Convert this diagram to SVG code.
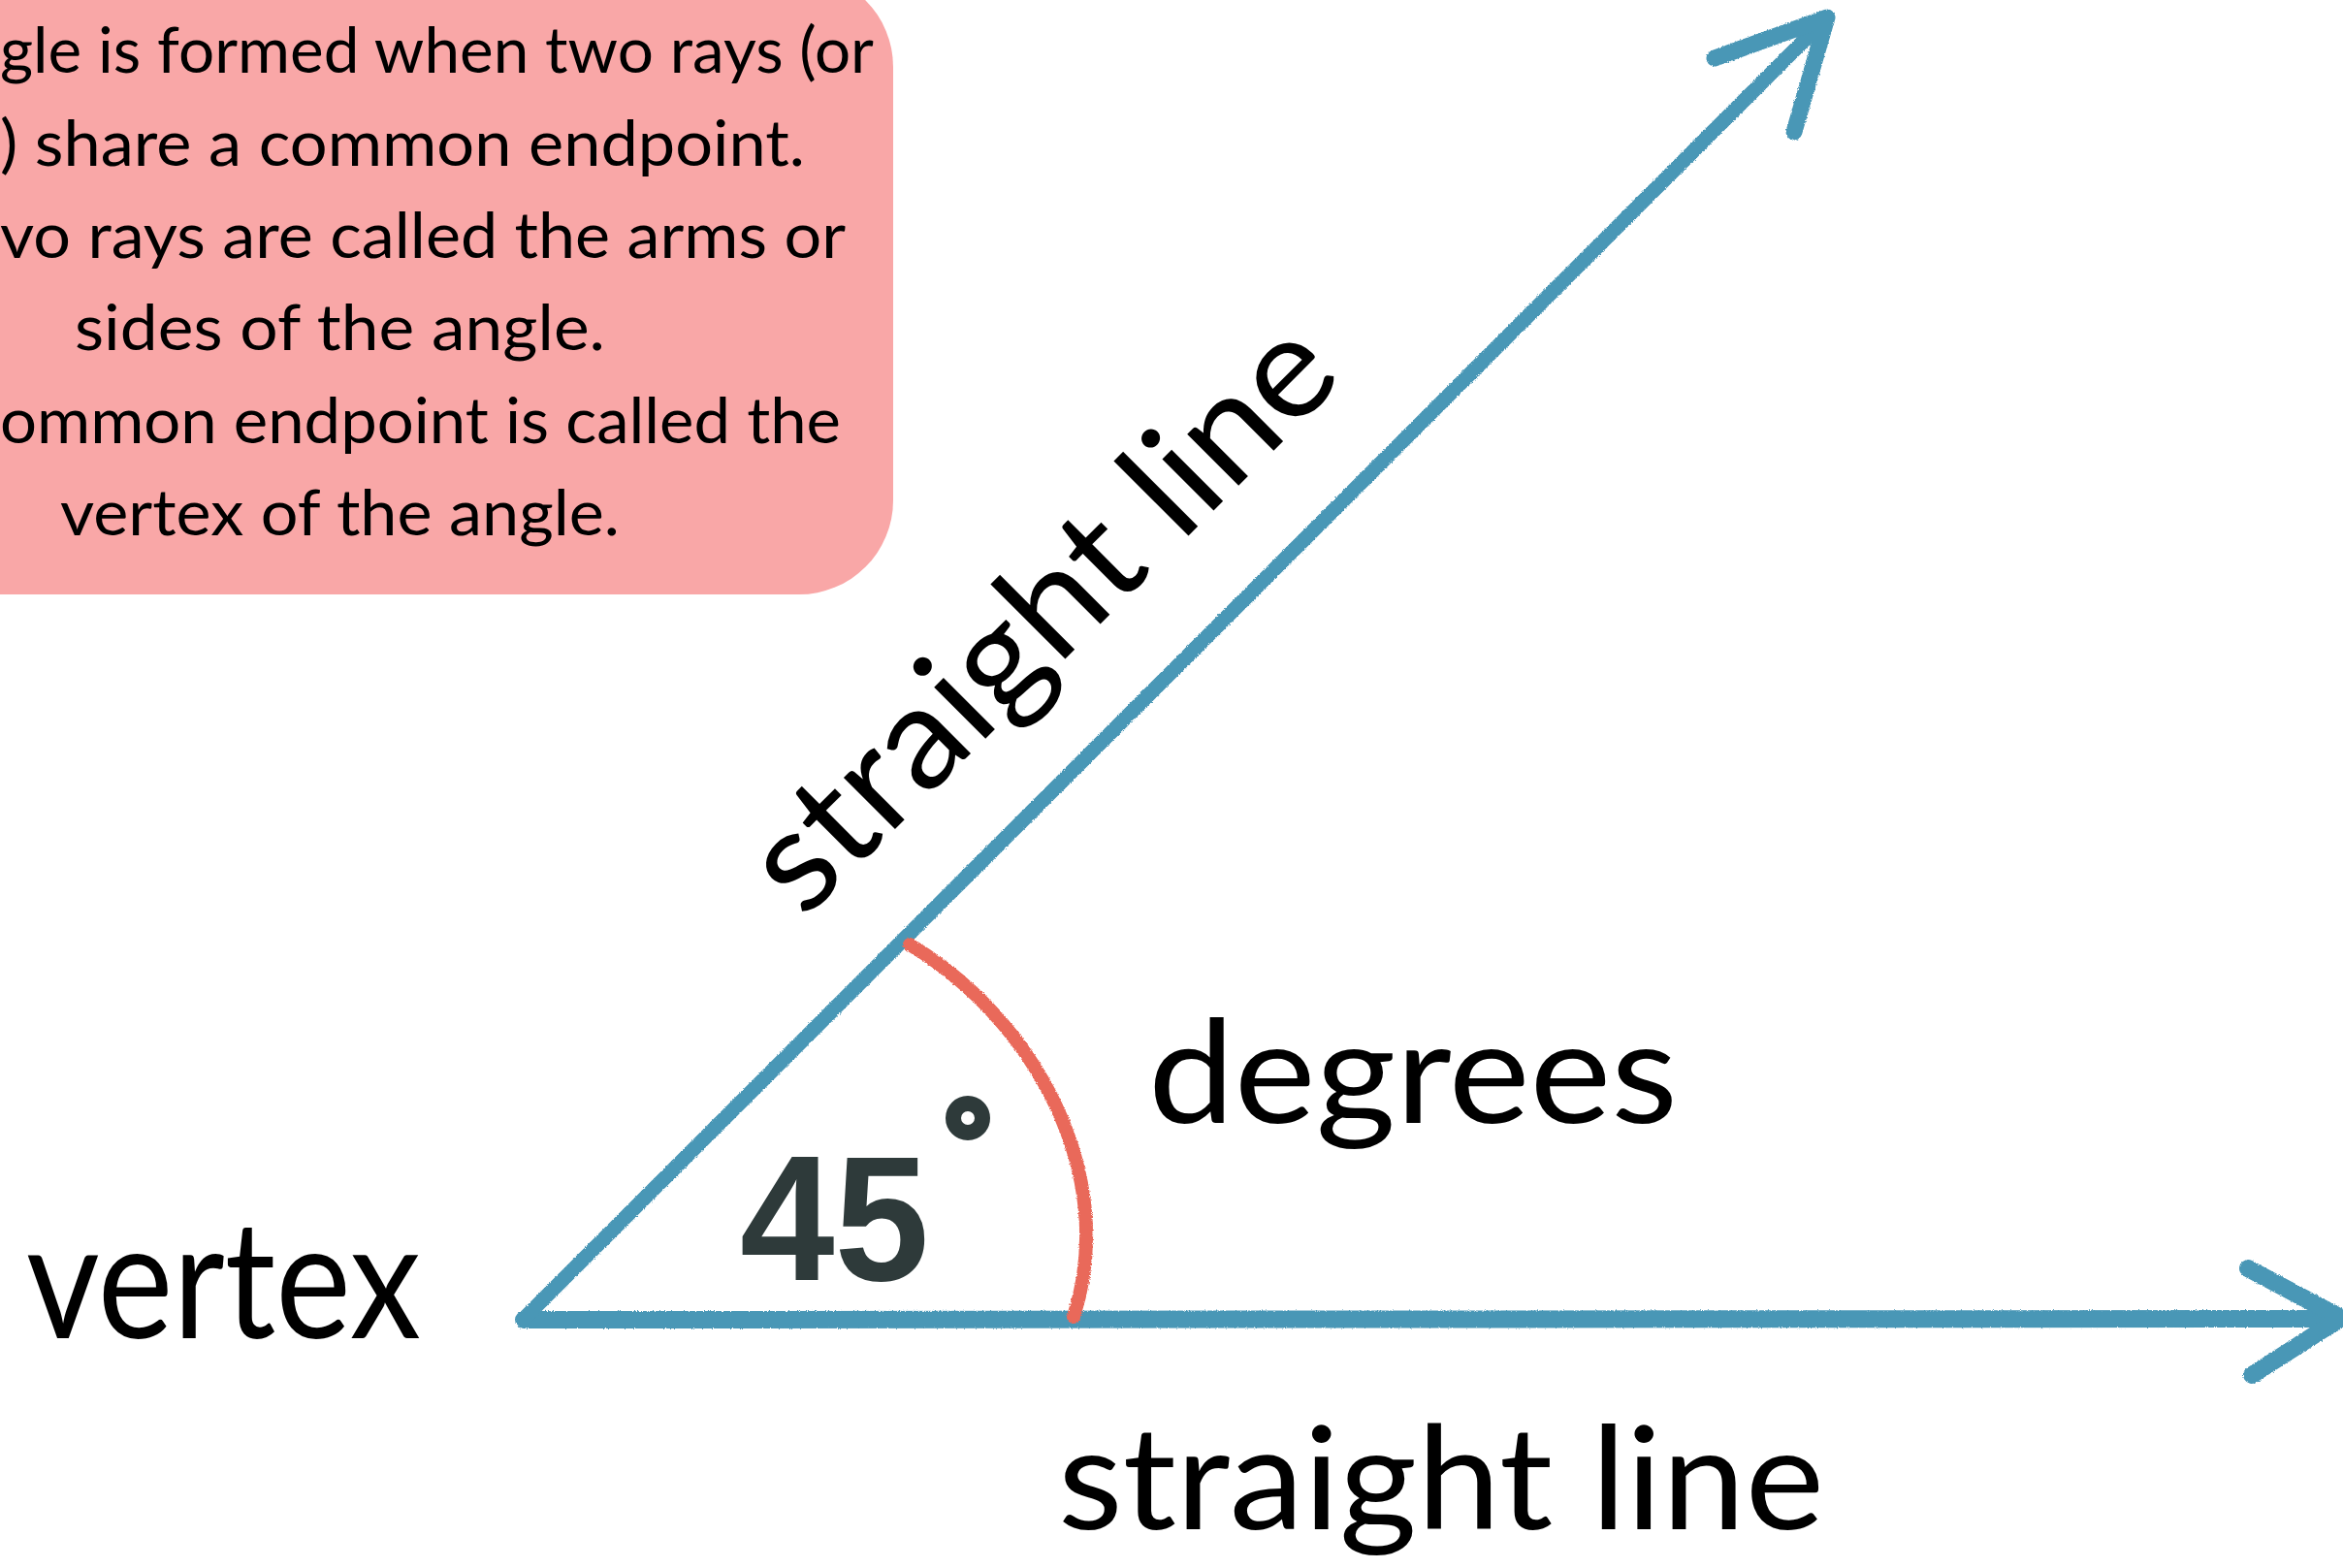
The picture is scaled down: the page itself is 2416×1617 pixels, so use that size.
<svg xmlns="http://www.w3.org/2000/svg" width="2416" height="1617" viewBox="0 0 2416 1617">
  <defs>
    <filter id="crayon" filterUnits="userSpaceOnUse" x="0" y="0" width="2416" height="1617">
      <feTurbulence type="fractalNoise" baseFrequency="0.9" numOctaves="2" seed="3" result="n"/>
      <feDisplacementMap in="SourceGraphic" in2="n" scale="3" xChannelSelector="R" yChannelSelector="G"/>
    </filter>
    <style>
      .box { fill: #F9A7A7; }
      .boxtxt { font-family: Lato, "Open Sans", "Liberation Sans", sans-serif; font-size: 66px; fill: #000; }
      .lbl { font-family: Lato, "Open Sans", "Liberation Sans", sans-serif; fill: #000; }
      .ray { fill: none; stroke: #4A97B6; stroke-linecap: round; stroke-linejoin: round; }
      .arc { fill: none; stroke: #E9695A; stroke-width: 14; stroke-linecap: round; }
      .hand { font-family: "Liberation Sans", Arial, sans-serif; font-weight: bold; fill: #2E3A3A; }
    </style>
  </defs>
  <rect width="2416" height="1617" fill="#FFFFFF"/>

  <g id="info-box">
    <rect class="box" x="-200" y="-28" width="1121" height="641" rx="97" ry="97"/>
    <text class="boxtxt" x="0" y="75" textLength="901" lengthAdjust="spacingAndGlyphs">gle is formed when two rays (or</text>
    <text class="boxtxt" x="0" y="171" textLength="830" lengthAdjust="spacingAndGlyphs">) share a common endpoint.</text>
    <text class="boxtxt" x="0" y="266" textLength="872" lengthAdjust="spacingAndGlyphs">vo rays are called the arms or</text>
    <text class="boxtxt" x="77" y="361" textLength="547" lengthAdjust="spacingAndGlyphs">sides of the angle.</text>
    <text class="boxtxt" x="0" y="457" textLength="867" lengthAdjust="spacingAndGlyphs">ommon endpoint is called the</text>
    <text class="boxtxt" x="62" y="552" textLength="577" lengthAdjust="spacingAndGlyphs">vertex of the angle.</text>
  </g>

  <g id="connectors" filter="url(#crayon)">
    <path id="ray-horizontal" class="ray" stroke-width="18" d="M 540 1361 L 2412 1360"/>
    <path id="ray-horizontal-head" class="ray" stroke-width="18" d="M 2318 1308 L 2414 1359 L 2322 1418"/>
    <path id="ray-diagonal" class="ray" stroke-width="15" d="M 542 1358 L 1882 20"/>
    <path id="ray-diagonal-head" class="ray" stroke-width="17" d="M 1768 60 L 1884 18 L 1850 136"/>
    <path id="angle-arc" class="arc" d="M 938 974 C 1065 1050, 1155 1210, 1107 1358"/>
  </g>

  <g id="angle-label">
    <text class="hand" x="763" y="1320" font-size="184" textLength="195" lengthAdjust="spacingAndGlyphs">45</text>
    <circle cx="998" cy="1153" r="15" fill="none" stroke="#2E3A3A" stroke-width="16"/>
  </g>

  <g id="vertex-label">
    <text class="lbl" x="27" y="1380" font-size="168" textLength="407" lengthAdjust="spacingAndGlyphs">vertex</text>
  </g>

  <g id="degrees-label">
    <text class="lbl" x="1184" y="1158" font-size="148" textLength="546" lengthAdjust="spacingAndGlyphs">degrees</text>
  </g>

  <g id="arm-upper-label">
    <text class="lbl" x="829" y="949" font-size="148" textLength="790" lengthAdjust="spacingAndGlyphs" transform="rotate(-45 829 949)">straight line</text>
  </g>

  <g id="arm-lower-label">
    <text class="lbl" x="1091" y="1577" font-size="148" textLength="790" lengthAdjust="spacingAndGlyphs">straight line</text>
  </g>
</svg>
